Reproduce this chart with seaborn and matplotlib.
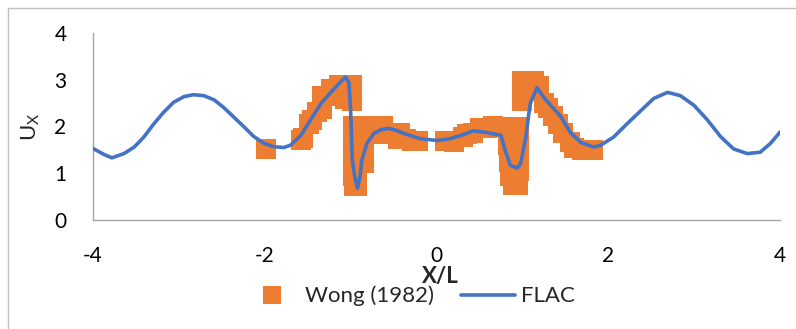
import matplotlib
matplotlib.use("Agg")
import matplotlib.pyplot as plt
from matplotlib.lines import Line2D
import seaborn as sns
import pandas as pd

# Experimental data, Wong (1982)
wong_x = [-1.99, -1.58, -1.55, -1.49, -1.45, -1.39, -1.33, -1.33, -1.27, -1.23,
          -1.14, -1.06, -0.98, -1.06, -0.98, -0.97, -0.97, -0.97, -0.97, -0.96,
          -0.92, -0.92, -0.92, -0.92, -0.92, -0.85, -0.85, -0.85, -0.77, -0.77,
          -0.70, -0.62, -0.57, -0.45, -0.42, -0.36, -0.28, -0.22,
          0.10, 0.20, 0.31, 0.36, 0.43, 0.51, 0.59, 0.66, 0.74,
          0.83, 0.83, 0.84, 0.86, 0.89, 0.95, 0.96, 0.96, 0.96, 0.96,
          1.00, 1.00, 1.13, 1.19, 1.25, 1.30, 1.36, 1.41, 1.47, 1.56,
          1.60, 1.70, 1.82]
wong_y = [1.51, 1.72, 1.75, 2.06, 2.13, 2.30, 2.38, 2.66, 2.66, 2.81,
          2.89, 2.89, 2.89, 2.58, 2.55, 2.02, 1.65, 1.30, 0.95, 0.72,
          0.72, 1.05, 1.40, 1.75, 2.02, 1.21, 1.60, 1.98, 2.02, 1.85,
          1.85, 2.02, 1.85, 1.74, 1.87, 1.74, 1.70, 1.70,
          1.68, 1.66, 1.77, 1.85, 1.87, 1.96, 1.96, 2.02, 1.98,
          1.98, 1.60, 1.25, 0.95, 0.74, 0.74, 1.05, 1.40, 1.75, 1.98,
          2.55, 2.98, 2.98, 2.87, 2.51, 2.40, 2.23, 2.06, 1.87, 1.66,
          1.53, 1.50, 1.49]

# FLAC numerical results
flac_x = [-4.00, -3.87, -3.78, -3.64, -3.52, -3.41, -3.29, -3.18, -3.06, -2.94,
          -2.83, -2.71, -2.59, -2.48, -2.36, -2.24, -2.13, -2.01, -1.90, -1.78,
          -1.70, -1.58, -1.47, -1.35, -1.23, -1.14, -1.06, -1.02, -1.00, -0.98,
          -0.95, -0.92, -0.89, -0.87, -0.81, -0.73, -0.65, -0.57, -0.47, -0.38,
          -0.19, 0.01, 0.16, 0.30, 0.43, 0.59, 0.75, 0.80, 0.86, 0.94,
          0.98, 1.04, 1.09, 1.17, 1.25, 1.33, 1.44, 1.56, 1.68, 1.83,
          1.91, 2.06, 2.22, 2.38, 2.53, 2.69, 2.84, 3.00, 3.15, 3.31,
          3.46, 3.62, 3.77, 3.89, 4.00]
flac_y = [1.53, 1.40, 1.33, 1.42, 1.56, 1.77, 2.06, 2.30, 2.52, 2.64,
          2.68, 2.66, 2.57, 2.41, 2.20, 1.99, 1.79, 1.64, 1.57, 1.55,
          1.60, 1.81, 2.13, 2.48, 2.73, 2.91, 3.06, 2.94, 2.34, 1.28,
          0.90, 0.68, 0.95, 1.28, 1.64, 1.85, 1.93, 1.96, 1.92, 1.85,
          1.74, 1.70, 1.74, 1.82, 1.91, 1.87, 1.81, 1.49, 1.17, 1.11,
          1.21, 1.77, 2.48, 2.83, 2.62, 2.45, 2.23, 1.87, 1.66, 1.56,
          1.60, 1.77, 2.06, 2.34, 2.60, 2.73, 2.66, 2.45, 2.15, 1.78,
          1.52, 1.42, 1.45, 1.64, 1.88]

x_ticks = [-4, -2, 0, 2, 4]
y_ticks = [0, 1, 2, 3, 4]

wong = pd.DataFrame({"x": wong_x, "y": wong_y})
flac = pd.DataFrame({"x": flac_x, "y": flac_y})

sns.set_theme(style="white")
plt.rcParams["font.family"] = ["Lato", "DejaVu Sans"]

W, H = 796, 329
fig = plt.figure(figsize=(W / 100, H / 100), dpi=100)
ax = fig.add_axes([93 / W, 1 - 220 / H, (780 - 93) / W, (220 - 33) / H])

orange = "#ED7D31"
blue = "#4472C4"

sns.scatterplot(data=wong, x="x", y="y", marker="s", s=205, color=orange,
                linewidth=0, ax=ax, label="Wong (1982)", zorder=2)
sns.lineplot(data=flac, x="x", y="y", color=blue, linewidth=2.6, ax=ax,
             label="FLAC", sort=False, zorder=3)

ax.set_xlim(-4, 4)
ax.set_ylim(0, 4)
ax.set_xticks(x_ticks)
ax.set_yticks(y_ticks)
ax.set_xticklabels([str(t) for t in x_ticks])
ax.set_yticklabels([str(t) for t in y_ticks])
ax.tick_params(axis="both", length=0, labelsize=15, colors="black")
ax.tick_params(axis="x", pad=19)
ax.tick_params(axis="y", pad=19)

for side in ["top", "right"]:
    ax.spines[side].set_visible(False)
for side in ["left", "bottom"]:
    ax.spines[side].set_color("#a6a6a6")
    ax.spines[side].set_linewidth(1.0)

ax.set_xlabel("")
ax.set_ylabel("")
fig.text(440 / W, 1 - 277 / H, "X/L", ha="center", va="center",
         fontsize=16, fontweight="bold")
fig.text(31 / W, 1 - 127 / H, r"U$_\mathregular{X}$", ha="center", va="center",
         fontsize=16, rotation=90)

ax.get_legend().remove()
handles = [
    Line2D([], [], linestyle="none", marker="s", markersize=13,
           markerfacecolor=orange, markeredgewidth=0),
    Line2D([], [], color=blue, linewidth=2.6),
]
fig.legend(handles, ["Wong (1982)", "FLAC"], loc="center",
           bbox_to_anchor=(410 / W, 1 - 296 / H), ncol=2, frameon=False,
           fontsize=16, handlelength=2.4, handletextpad=0.28,
           columnspacing=1.25, borderpad=0.2)

# chart area border
border = "#bfbfbf"
fig.add_artist(Line2D([8 / W, 1], [1 - 8 / H, 1 - 8 / H], color=border,
                      linewidth=1.0, transform=fig.transFigure))
fig.add_artist(Line2D([8 / W, 8 / W], [0, 1 - 8 / H], color=border,
                      linewidth=1.0, transform=fig.transFigure))

fig.savefig("out.png", dpi=100)
